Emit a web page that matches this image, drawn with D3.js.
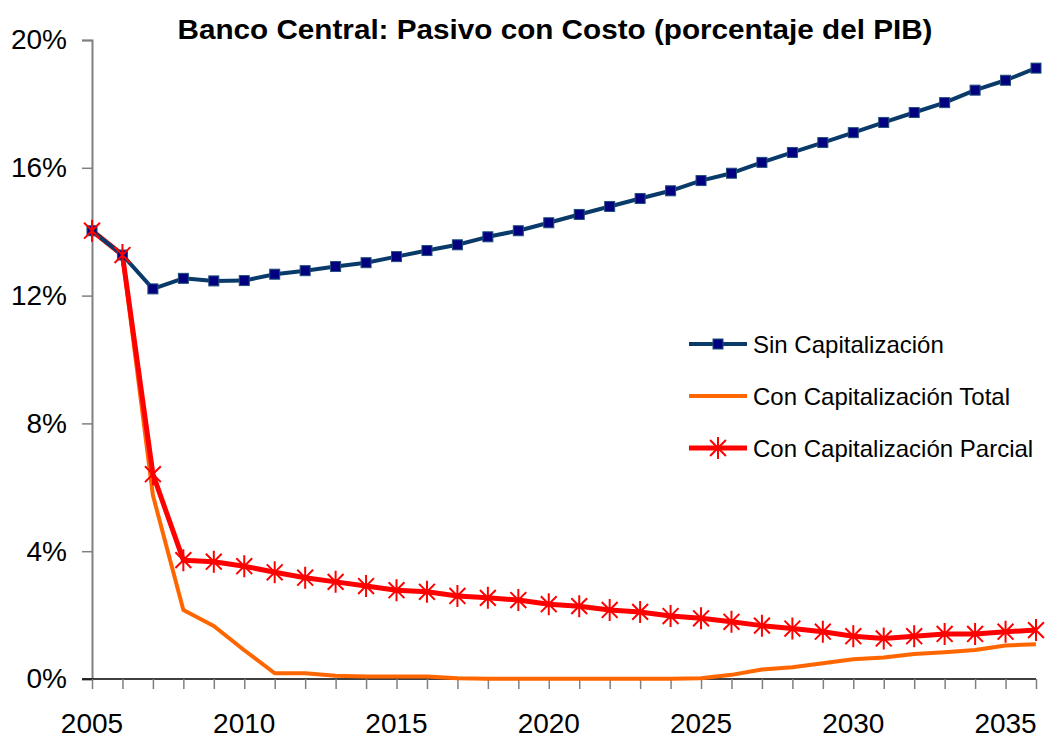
<!DOCTYPE html>
<html>
<head>
<meta charset="utf-8">
<script src="https://cdn.jsdelivr.net/npm/d3@7"></script>
<style>
  body { margin: 0; background: #fff; }
  svg { font-family: "Liberation Sans", Arial, sans-serif; }
</style>
</head>
<body>
<div id="chart"></div>
<script>
var width = 1058,
    height = 738;

var years = d3.range(2005, 2037);

var sinCap = [14.03, 13.27, 12.21, 12.54, 12.46, 12.47, 12.67, 12.78, 12.91, 13.03,
    13.22, 13.41, 13.59, 13.84, 14.03, 14.28, 14.54, 14.79, 15.04, 15.28,
    15.60, 15.83, 16.17, 16.48, 16.79, 17.10, 17.42, 17.73, 18.04, 18.43,
    18.74, 19.12];

var capTotal = [14.03, 13.27, 5.75, 2.16, 1.66, 0.90, 0.18, 0.18, 0.10, 0.08,
    0.08, 0.08, 0.02, 0.01, 0.01, 0.01, 0.01, 0.01, 0.01, 0.01,
    0.02, 0.13, 0.30, 0.37, 0.49, 0.62, 0.67, 0.78, 0.84, 0.91,
    1.05, 1.09];

var capParcial = [14.03, 13.27, 6.41, 3.72, 3.67, 3.53, 3.34, 3.17, 3.04, 2.91,
    2.78, 2.73, 2.60, 2.54, 2.47, 2.34, 2.28, 2.16, 2.10, 1.97,
    1.90, 1.79, 1.67, 1.58, 1.48, 1.34, 1.27, 1.34, 1.41, 1.41,
    1.48, 1.53];

var yTicks = [0, 4, 8, 12, 16, 20];
var xLabels = [2005, 2010, 2015, 2020, 2025, 2030, 2035];

var seriesNames = ['Sin Capitalización', 'Con Capitalización Total', 'Con Capitalización Parcial'];

var x = d3.scaleLinear().domain([2005, 2036]).range([92, 1036]);
var y = d3.scaleLinear().domain([0, 20]).range([679, 40]);

var svg = d3.select('#chart')
    .append('svg')
    .attr('width', width)
    .attr('height', height);

// title
svg.append('text')
    .attr('x', 555)
    .attr('y', 39)
    .attr('text-anchor', 'middle')
    .attr('textLength', 755)
    .attr('lengthAdjust', 'spacingAndGlyphs')
    .style('font-size', '28px')
    .style('font-weight', 'bold')
    .text('Banco Central: Pasivo con Costo (porcentaje del PIB)');

// y axis
var yAxis = svg.append('g')
    .attr('transform', 'translate(92,0)')
    .call(d3.axisLeft(y).tickValues(yTicks).tickSize(10).tickFormat(d => d + '%'));
yAxis.select('.domain').attr('stroke', '#808080').attr('stroke-width', 2);
yAxis.selectAll('.tick line').attr('stroke', '#808080').attr('stroke-width', 1.5);
yAxis.selectAll('.tick text')
    .attr('x', -25)
    .style('font-size', '28px')
    .style('font-family', '"Liberation Sans", Arial, sans-serif')
    .attr('fill', '#000');

// x axis
var xAxis = svg.append('g')
    .attr('transform', 'translate(0,679)')
    .call(d3.axisBottom(x).tickValues(years).tickSize(10).tickFormat(''));
xAxis.select('.domain').attr('stroke', '#000').attr('stroke-width', 1.5).attr('d', 'M82,0H1036');
xAxis.selectAll('.tick line').attr('stroke', '#808080').attr('stroke-width', 1.5);

svg.append('g')
    .selectAll('text')
    .data(xLabels)
    .enter()
    .append('text')
    .attr('x', d => x(d))
    .attr('y', 733)
    .attr('text-anchor', 'middle')
    .style('font-size', '28px')
    .text(d => d);

var line = d3.line()
    .x((d, i) => x(years[i]))
    .y(d => y(d));

// orange
svg.append('path')
    .datum(capTotal)
    .attr('d', line)
    .attr('fill', 'none')
    .attr('stroke', '#ff6600')
    .attr('stroke-width', 4)
    .attr('stroke-linejoin', 'round');

// red
svg.append('path')
    .datum(capParcial)
    .attr('d', line)
    .attr('fill', 'none')
    .attr('stroke', '#ff0000')
    .attr('stroke-width', 5)
    .attr('stroke-linejoin', 'round');

// blue
svg.append('path')
    .datum(sinCap)
    .attr('d', line)
    .attr('fill', 'none')
    .attr('stroke', '#0a3a6a')
    .attr('stroke-width', 4)
    .attr('stroke-linejoin', 'round');

function starPath(r) {
    var d = r * 0.72;
    return 'M0,' + (-r) + 'V' + r +
        'M' + (-d) + ',' + (-d) + 'L' + d + ',' + d +
        'M' + (-d) + ',' + d + 'L' + d + ',' + (-d);
}

svg.append('g')
    .selectAll('rect')
    .data(sinCap)
    .enter()
    .append('rect')
    .attr('x', (d, i) => x(years[i]) - 5)
    .attr('y', d => y(d) - 5)
    .attr('width', 10)
    .attr('height', 10)
    .attr('fill', '#000080')
    .attr('stroke', '#1f4e79')
    .attr('stroke-width', 1);

svg.append('g')
    .selectAll('path')
    .data(capParcial)
    .enter()
    .append('path')
    .attr('transform', (d, i) => `translate(${x(years[i])},${y(d)})`)
    .attr('d', starPath(11))
    .attr('stroke', '#ff0000')
    .attr('stroke-width', 2)
    .attr('fill', 'none');

// legend
var legendY = [344, 396, 448];
var legend = svg.append('g');
var colors = ['#0a3a6a', '#ff6600', '#ff0000'];
var widths = [4, 4, 5];

seriesNames.forEach(function (name, i) {
    legend.append('line')
        .attr('x1', 689).attr('x2', 747)
        .attr('y1', legendY[i]).attr('y2', legendY[i])
        .attr('stroke', colors[i])
        .attr('stroke-width', widths[i]);
    legend.append('text')
        .attr('x', 753)
        .attr('y', legendY[i] + 9)
        .style('font-size', '24px')
        .text(name);
});
legend.append('rect')
    .attr('x', 713).attr('y', legendY[0] - 5)
    .attr('width', 10).attr('height', 10)
    .attr('fill', '#000080').attr('stroke', '#1f4e79');
legend.append('path')
    .attr('transform', `translate(718,${legendY[2]})`)
    .attr('d', starPath(11))
    .attr('stroke', '#ff0000')
    .attr('stroke-width', 2);
</script>
</body>
</html>
